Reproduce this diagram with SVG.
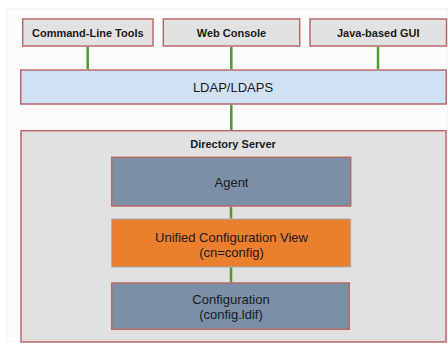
<svg xmlns="http://www.w3.org/2000/svg" width="448" height="343" viewBox="0 0 448 343">
<style>
.box{stroke:#b86a68;stroke-width:1.5}
.client{fill:#e2e2e2}
.t{font-family:"Liberation Sans",Arial,sans-serif;font-size:13px;fill:#1a1a1a;text-anchor:middle}
.b{font-weight:bold;font-size:11px}
.c{stroke:#4e9a2c;stroke-width:2.5;fill:none}
</style>
<rect x="0" y="0" width="448" height="343" fill="#ffffff"/>
<rect x="7" y="9" width="441" height="334" fill="#fcfcfc" stroke="#f0f0f0" stroke-width="1"/>
<g id="cli">
<rect class="box client" x="22.7" y="19" width="130.3" height="27"/>
<text class="t b" x="87.8" y="36.5">Command-Line Tools</text>
</g>
<g id="web">
<rect class="box client" x="163.3" y="19" width="136.4" height="27"/>
<text class="t b" x="231.5" y="36.5">Web Console</text>
</g>
<g id="gui">
<rect class="box client" x="310" y="19" width="136.5" height="27"/>
<text class="t b" x="378.2" y="36.5">Java-based GUI</text>
</g>
<g id="ldap">
<rect class="box" x="20.7" y="70" width="425.5" height="34" fill="#d0e1f3"/>
<text class="t" x="233" y="91.8" font-size="13.5">LDAP/LDAPS</text>
</g>
<g id="ds">
<rect class="box" x="21" y="130.7" width="425" height="211.3" fill="#e1e1e1"/>
<text class="t b" x="233" y="148">Directory Server</text>
</g>
<g id="agent">
<rect class="box" x="111.7" y="157.3" width="239" height="48.7" fill="#7b8fa6"/>
<text class="t" x="231.5" y="187">Agent</text>
</g>
<g id="ucv">
<rect x="111.7" y="219" width="239" height="48" fill="#eb7f2e" stroke="#a0aec0" stroke-width="1"/>
<text class="t" x="231.5" y="242">Unified Configuration View</text>
<text class="t" x="231.5" y="257">(cn=config)</text>
</g>
<g id="config">
<rect class="box" x="111.7" y="283" width="237.6" height="46.3" fill="#7b8fa6"/>
<text class="t" x="231" y="304.3">Configuration</text>
<text class="t" x="231" y="318.6">(config.ldif)</text>
</g>
<g id="connectors">
<line class="c" x1="87.7" y1="46.8" x2="87.7" y2="69.2"/>
<line class="c" x1="231.3" y1="46.8" x2="231.3" y2="69.2"/>
<line class="c" x1="378" y1="46.8" x2="378" y2="69.2"/>
<line class="c" x1="231.3" y1="104.8" x2="231.3" y2="130"/>
<line class="c" x1="231" y1="206.8" x2="231" y2="218.5"/>
<line class="c" x1="231" y1="267.5" x2="231" y2="282.2"/>
</g>
</svg>
